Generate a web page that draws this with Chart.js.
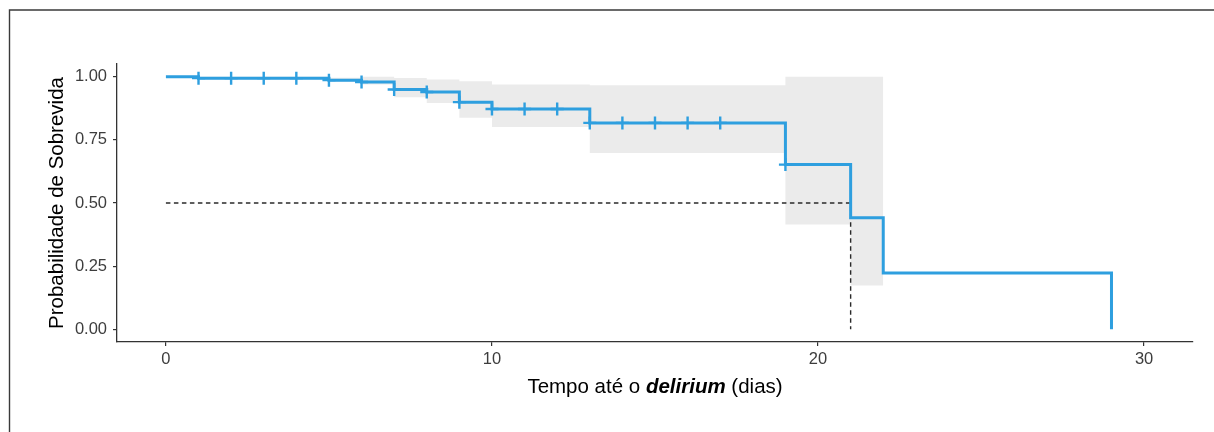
<!DOCTYPE html>
<html lang="pt">
<head>
<meta charset="utf-8">
<title>Curva de sobrevida – tempo até o delirium</title>
<script src="https://cdn.jsdelivr.net/npm/chart.js@4/dist/chart.umd.min.js"></script>
<style>
  html, body { margin: 0; padding: 0; background: #fff; }
  #wrap { position: relative; width: 1214px; height: 432px; }
</style>
</head>
<body>
<div id="wrap"><canvas id="km" width="1214" height="432"></canvas></div>
<script>
// Kaplan–Meier estimate: day on which each step starts and the survival level from then on
const stepDays = [0, 1, 5, 6, 7, 8, 9, 10, 13, 19, 21, 22, 29];
const survival = [1.000, 0.994, 0.986, 0.979, 0.949, 0.939, 0.899, 0.872, 0.817, 0.652, 0.442, 0.223, 0.000];

// 95% confidence band on the same steps (the band closes at day 22)
const bandDays  = [0, 1, 5, 6, 7, 8, 9, 10, 13, 19, 21, 22];
const bandUpper = [1.000, 1.000, 0.996, 1.000, 0.995, 0.989, 0.982, 0.969, 0.966, 1.000, 1.000, 1.000];
const bandLower = [1.000, 0.989, 0.980, 0.969, 0.918, 0.896, 0.837, 0.801, 0.698, 0.415, 0.174, 0.174];

// censored observations (day)
const censorDays = [1, 2, 3, 4, 5, 6, 7, 8, 9, 10, 11, 12, 13, 14, 15, 16, 17, 19];

// median survival
const medianDay = 21;
const medianLevel = 0.5;

// axes
const xTickValues = [0, 10, 20, 30];
const yTickValues = [0, 0.25, 0.5, 0.75, 1];
const yTickLabels = ['0.00', '0.25', '0.50', '0.75', '1.00'];
const xTitleParts = [
  { text: 'Tempo até o ', style: '' },
  { text: 'delirium', style: 'italic bold ' },
  { text: ' (dias)', style: '' }
];
const yTitle = 'Probabilidade de Sobrevida';

const FAMILY = "'Liberation Sans', Arial, Helvetica, sans-serif";
const BLUE = '#2E9FDF';
const AXIS = '#333333';

// survival level in force on a given day (step function lookup)
function levelAt(day) {
  let v = survival[0];
  for (let i = 0; i < stepDays.length; i++) {
    if (stepDays[i] <= day) v = survival[i];
  }
  return v;
}

const toPoints = (xs, ys) => xs.map((x, i) => ({ x: x, y: ys[i] }));

// outer frame (left and top rules) and the x-axis title with its italic bold word
const decorations = {
  id: 'decorations',
  beforeDraw(chart) {
    const ctx = chart.ctx;
    ctx.save();
    ctx.fillStyle = '#ffffff';
    ctx.fillRect(0, 0, chart.width, chart.height);
    ctx.strokeStyle = '#3a3a3a';
    ctx.lineWidth = 1.4;
    ctx.beginPath();
    ctx.moveTo(9.5, chart.height);
    ctx.lineTo(9.5, 10);
    ctx.lineTo(chart.width, 10);
    ctx.stroke();
    ctx.restore();
  },
  afterDraw(chart) {
    const ctx = chart.ctx;
    const area = chart.chartArea;
    const size = 20.5;
    ctx.save();
    ctx.fillStyle = '#000000';
    ctx.textBaseline = 'middle';
    ctx.textAlign = 'left';
    let total = 0;
    const widths = xTitleParts.map(p => {
      ctx.font = p.style + size + 'px ' + FAMILY;
      const w = ctx.measureText(p.text).width;
      total += w;
      return w;
    });
    let x = (area.left + area.right) / 2 - total / 2;
    const y = area.bottom + 45;
    xTitleParts.forEach((p, i) => {
      ctx.font = p.style + size + 'px ' + FAMILY;
      ctx.fillText(p.text, x, y);
      x += widths[i];
    });
    ctx.restore();
  }
};

new Chart(document.getElementById('km'), {
  type: 'line',
  data: {
    datasets: [
      {
        label: 'censura',
        data: censorDays.map(d => ({ x: d, y: levelAt(d) })),
        showLine: false,
        pointStyle: 'cross',
        pointRadius: 6.5,
        pointHoverRadius: 6.5,
        pointBorderWidth: 2.4,
        borderColor: BLUE,
        backgroundColor: BLUE,
        order: 0
      },
      {
        label: 'sobrevida',
        data: toPoints(stepDays, survival),
        stepped: 'before',
        borderColor: BLUE,
        borderWidth: 3,
        pointRadius: 0,
        fill: false,
        order: 1
      },
      {
        label: 'mediana',
        data: [
          { x: 0, y: medianLevel },
          { x: medianDay, y: medianLevel },
          { x: medianDay, y: 0 }
        ],
        borderColor: '#2a2a2a',
        borderWidth: 1.4,
        borderDash: [4.5, 3.5],
        pointRadius: 0,
        fill: false,
        order: 2
      },
      {
        label: 'IC superior',
        data: toPoints(bandDays, bandUpper),
        stepped: 'before',
        borderColor: 'rgba(0,0,0,0)',
        borderWidth: 0,
        backgroundColor: '#EBEBEB',
        pointRadius: 0,
        fill: '+1',
        order: 3
      },
      {
        label: 'IC inferior',
        data: toPoints(bandDays, bandLower),
        stepped: 'before',
        borderColor: 'rgba(0,0,0,0)',
        borderWidth: 0,
        pointRadius: 0,
        fill: false,
        order: 4
      }
    ]
  },
  options: {
    responsive: false,
    animation: false,
    events: [],
    layout: { padding: { top: 64, right: 21, bottom: 0, left: 0 } },
    plugins: {
      legend: { display: false },
      tooltip: { enabled: false },
      filler: { propagate: false }
    },
    scales: {
      x: {
        type: 'linear',
        min: -1.5,
        max: 31.5,
        afterBuildTicks: s => { s.ticks = xTickValues.map(v => ({ value: v })); },
        afterFit: s => { s.height = 90; },
        grid: { display: true, drawOnChartArea: false, drawTicks: true, tickLength: 4, color: AXIS, lineWidth: 1.2 },
        border: { display: true, color: AXIS, width: 1.3 },
        ticks: {
          color: '#3d3d3d',
          padding: 4,
          maxRotation: 0,
          font: { family: FAMILY, size: 16.5 },
          callback: v => String(v)
        }
      },
      y: {
        type: 'linear',
        min: -0.05,
        max: 1.05,
        afterBuildTicks: s => { s.ticks = yTickValues.map(v => ({ value: v })); },
        afterFit: s => { s.width = 117; },
        grid: { display: true, drawOnChartArea: false, drawTicks: true, tickLength: 4, color: AXIS, lineWidth: 1.2 },
        border: { display: true, color: AXIS, width: 1.3 },
        ticks: {
          color: '#3d3d3d',
          padding: 6,
          font: { family: FAMILY, size: 16.5 },
          callback: v => yTickLabels[yTickValues.indexOf(v)]
        },
        title: {
          display: true,
          text: yTitle,
          color: '#000000',
          font: { family: FAMILY, size: 20.5, lineHeight: 1.2 },
          padding: { top: 45, bottom: 0 }
        }
      }
    }
  },
  plugins: [decorations]
});
</script>
</body>
</html>
